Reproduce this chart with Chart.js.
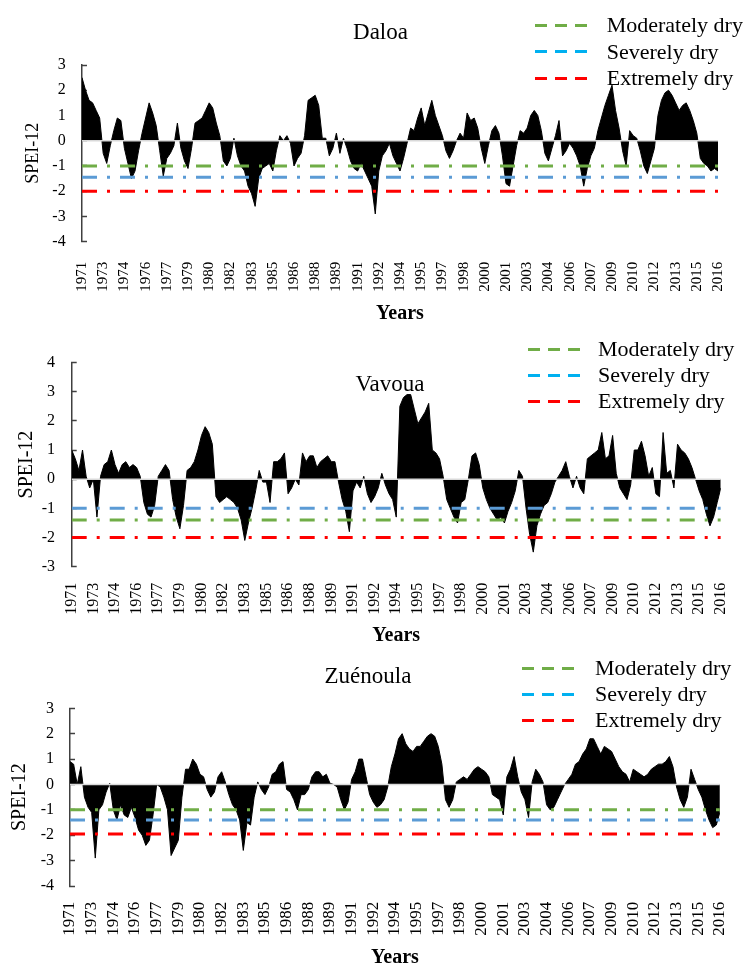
<!DOCTYPE html>
<html><head><meta charset="utf-8">
<script src="https://cdn.jsdelivr.net/npm/chart.js@4.4.1/dist/chart.umd.min.js"></script>
<style>
html,body{margin:0;padding:0;background:#fff;}
#wrap{position:relative;width:756px;height:967px;overflow:hidden;font-family:"Liberation Serif","Times New Roman",serif;color:#000;}
canvas{position:absolute;left:0;}
.title{position:absolute;font-size:23px;line-height:23px;white-space:nowrap;transform:translateX(-50%);}
.leg{position:absolute;font-size:22px;line-height:22px;white-space:nowrap;}
.sw{position:absolute;height:3px;}
</style></head><body>
<div id="wrap">
<canvas id="c1" width="756" height="330" style="top:0px"></canvas>
<canvas id="c2" width="756" height="320" style="top:330px"></canvas>
<canvas id="c3" width="756" height="320" style="top:650px"></canvas>
</div>
<script>
// x tick labels (one every 18 months, Dec 1971 .. Dec 2016, quarterly points)
const tickYears = ['1971','1973','1974','1976','1977','1979','1980','1982','1983','1985','1986','1988','1989','1991','1992','1994','1995','1997','1998','2000','2001','2003','2004','2006','2007','2009','2010','2012','2013','2015','2016'];
const legendLabels = ['Moderately dry','Severely dry','Extremely dry'];
const stations = ['Daloa','Vavoua','Zuénoula'];

// SPEI-12 values (quarterly)
const daloa = [
 2.5, 2.0, 1.6, 1.5, 1.2, 0.9, -0.5, -0.9, -0.2, 0.4,
 0.9, 0.8, -0.3, -0.9, -1.5, -1.2, -0.4, 0.3, 0.9, 1.5,
 1.1, 0.6, -0.4, -1.4, -0.7, -0.5, -0.2, 0.7, -0.3, -0.8,
 -1.1, -0.3, 0.7, 0.8, 0.9, 1.2, 1.5, 1.3, 0.7, 0.2,
 -0.8, -1.0, -0.7, 0.1, -0.6, -1.0, -1.2, -1.8, -2.1, -2.6,
 -1.5, -1.1, -1.0, -0.9, -1.2, -0.4, 0.2, 0.0, 0.2, -0.1,
 -1.0, -0.7, -0.5, 0.2, 1.6, 1.7, 1.8, 1.4, 0.1, 0.1,
 -0.6, -0.3, 0.3, -0.5, 0.1, -0.3, -0.8, -1.1, -1.2, -0.9,
 -1.2, -1.5, -1.8, -2.9, -1.2, -0.6, -0.4, -0.1, -0.6, -0.9,
 -1.2, -0.7, -0.1, 0.5, 0.4, 0.9, 1.3, 0.6, 1.1, 1.6,
 1.0, 0.6, 0.2, -0.4, -0.7, -0.4, 0.0, 0.3, 0.1, 1.1,
 0.8, 0.9, 0.5, -0.3, -0.9, -0.2, 0.4, 0.6, 0.3, -0.6,
 -1.7, -1.8, -1.0, -0.2, 0.4, 0.3, 0.5, 1.0, 1.2, 1.0,
 0.4, -0.5, -0.8, -0.3, 0.2, 0.8, -0.6, -0.4, -0.1, -0.3,
 -0.6, -1.0, -1.8, -1.1, -0.6, -0.3, 0.4, 0.9, 1.4, 1.8,
 2.2, 1.2, 0.5, -0.4, -1.0, 0.4, 0.2, 0.1, -0.4, -1.0,
 -1.3, -0.8, -0.3, 1.0, 1.6, 1.9, 2.0, 1.8, 1.5, 1.2,
 1.4, 1.5, 1.2, 0.8, 0.3, -0.7, -0.9, -1.0, -1.2, -1.1, -1.2
];
const vavoua = [
 1.0, 0.7, 0.3, 1.0, 0.1, -0.3, 0.0, -1.3, 0.1, 0.5,
 0.6, 1.0, 0.5, 0.2, 0.5, 0.6, 0.4, 0.5, 0.4, 0.1,
 -0.8, -1.2, -1.3, -0.9, 0.1, 0.3, 0.5, 0.3, -0.7, -1.3,
 -1.7, -0.9, 0.3, 0.4, 0.6, 1.0, 1.5, 1.8, 1.6, 1.2,
 -0.6, -0.8, -0.7, -0.6, -0.7, -0.8, -1.0, -1.4, -2.1, -1.5,
 -1.0, -0.4, 0.3, -0.1, -0.1, -0.8, 0.6, 0.6, 0.7, 0.9,
 -0.5, -0.3, 0.0, -0.2, 0.9, 0.6, 0.8, 0.8, 0.4, 0.6,
 0.7, 0.8, 0.6, 0.6, -0.1, -0.7, -1.1, -1.8, -0.4, -0.1,
 -0.3, 0.1, -0.5, -0.8, -0.6, -0.3, 0.2, -0.2, -0.5, -0.7,
 -1.3, 2.5, 2.8, 2.9, 2.9, 2.4, 1.9, 2.1, 2.3, 2.6,
 1.0, 0.9, 0.7, 0.1, -0.7, -1.0, -1.3, -1.5, -0.8, -0.7,
 0.0, 0.8, 0.9, 0.5, -0.3, -0.7, -1.0, -1.2, -1.4, -1.3,
 -1.5, -1.1, -0.8, -0.4, 0.3, 0.1, -1.0, -1.9, -2.5, -1.6,
 -1.2, -0.9, -0.8, -0.5, -0.1, 0.1, 0.3, 0.6, 0.1, -0.3,
 0.1, -0.3, -0.5, 0.7, 0.8, 0.9, 1.0, 1.6, 0.7, 0.8,
 1.5, 0.2, -0.3, -0.5, -0.7, -0.2, 1.0, 1.0, 1.3, 0.8,
 0.1, 0.4, -0.5, -0.6, 1.6, 0.2, 0.3, -0.3, 1.2, 1.0,
 0.9, 0.7, 0.4, 0.0, -0.4, -0.7, -1.2, -1.6, -1.3, -0.8, -0.3
];
const zuenoula = [
 0.9, 0.8, 0.0, 0.7, -0.5, -0.9, -1.1, -2.9, -1.0, -0.8,
 -0.3, 0.05, -1.0, -1.4, -0.8, -1.2, -1.3, -0.9, -1.3, -1.8,
 -2.0, -2.4, -2.2, -1.2, 0.0, -0.1, -0.5, -1.0, -2.8, -2.5,
 -2.2, -0.5, 0.6, 0.6, 1.0, 0.8, 0.4, 0.3, -0.2, -0.5,
 -0.3, 0.3, 0.5, 0.1, -0.4, -0.8, -1.0, -1.4, -2.6, -1.5,
 -1.6, -0.5, 0.1, -0.2, -0.4, -0.1, 0.4, 0.5, 0.8, 0.9,
 -0.2, -0.3, -0.6, -1.0, -0.4, -0.4, -0.2, 0.3, 0.5, 0.5,
 0.3, 0.4, 0.05, 0.0, -0.1, -0.6, -1.0, -0.7, 0.2, 0.5,
 1.0, 1.0, 0.3, -0.4, -0.7, -0.9, -0.8, -0.6, -0.1, 0.7,
 1.2, 1.8, 2.0, 1.6, 1.4, 1.3, 1.5, 1.5, 1.7, 1.9,
 2.0, 1.9, 1.5, 0.8, -0.6, -0.9, -0.6, 0.1, 0.2, 0.3,
 0.2, 0.4, 0.6, 0.7, 0.6, 0.5, 0.3, -0.4, -0.5, -0.6,
 -1.2, 0.3, 0.6, 1.1, 0.3, -0.3, -0.6, -1.3, 0.1, 0.6,
 0.4, 0.1, -0.8, -1.0, -0.9, -0.6, -0.3, 0.0, 0.2, 0.4,
 0.8, 0.9, 1.2, 1.4, 1.8, 1.8, 1.5, 1.2, 1.5, 1.4,
 1.3, 1.0, 0.7, 0.5, 0.4, 0.1, 0.6, 0.5, 0.4, 0.3,
 0.4, 0.6, 0.7, 0.8, 0.8, 0.9, 1.1, 0.7, -0.1, -0.6,
 -0.9, -0.5, 0.6, 0.2, -0.2, -0.5, -1.0, -1.4, -1.7, -1.6, -1.1
];
// threshold levels [moderately, severely, extremely] as drawn in each panel
const thrDaloa = [-1, -1.45, -2];
const thrVavoua = [-1.4, -1, -2];
const thrZuenoula = [-1, -1.4, -1.95];

const GREEN = '#70AD47', BLUE = '#5B9BD5', RED = '#FF0000', LEGBLUE = '#00B0F0';
const LAST = 180;

const panels = [
 {id:'c1', top:0, values:daloa, thr:thrDaloa, padTop:65, padRight:9, yW:82, xH:88.3, xPad:20, yearsPad:4, yMin:-4, yMax:3, yPad:21.3, tFont:18, tPad:22.7, xFont:15,
  title:{x:380.5, y:31.7}, leg:{sx:535, tx:606.7, rows:[25,51.7,78.3]}},
 {id:'c2', top:330, values:vavoua, thr:thrVavoua, padTop:32.5, padRight:10, yW:71.7, xH:83.3, xPad:16, yearsPad:2, yMin:-3, yMax:4, yPad:21.7, tFont:20, tPad:14.7, xFont:16,
  title:{x:390, y:384}, leg:{sx:528, tx:598, rows:[349,375,401]}},
 {id:'c3', top:650, values:zuenoula, thr:thrZuenoula, padTop:58.3, padRight:23, yW:70, xH:84, xPad:15.7, yearsPad:0, yMin:-4, yMax:3, yPad:21, tFont:20, tPad:8, xFont:17,
  title:{x:368, y:676}, leg:{sx:521.7, tx:595, rows:[668.3,694.3,720]}}
];

Chart.defaults.font.family = '"Liberation Serif","Times New Roman",serif';
Chart.defaults.color = '#000';

const wrap = document.getElementById('wrap');
function addDiv(cls, text, left, top, style) {
  const d = document.createElement('div');
  d.className = cls; if (text) d.textContent = text;
  d.style.left = left + 'px'; d.style.top = top + 'px';
  if (style) Object.assign(d.style, style);
  wrap.appendChild(d);
}

panels.forEach((p, k) => {
  const pts = p.values.map((v, i) => ({x: i, y: v}));
  const hline = (y) => [{x: 0, y: y}, {x: LAST, y: y}];
  const dash = [15, 10, 3, 10];
  const thrColors = [GREEN, BLUE, RED];
  const thrSets = p.thr.map((t, j) => ({data: hline(t), borderColor: thrColors[j], borderWidth: 3, borderDash: dash, borderCapStyle: 'butt', pointRadius: 0, fill: false}));
  new Chart(document.getElementById(p.id), {
    type: 'line',
    data: {datasets: [
      ...thrSets,
      {data: hline(0), borderColor: '#d9d9d9', borderWidth: 1.5, pointRadius: 0, fill: false},
      {data: pts, borderColor: '#000', backgroundColor: '#000', borderWidth: 1, pointRadius: 0, fill: 'origin', tension: 0}
    ]},
    options: {
      responsive: false, animation: false, devicePixelRatio: 1,
      layout: {padding: {left: 0, top: p.padTop, right: p.padRight, bottom: 0}},
      plugins: {legend: {display: false}, tooltip: {enabled: false}},
      scales: {
        x: {type: 'linear', min: 0, max: LAST,
            border: {display: false}, grid: {display: false, drawTicks: false},
            ticks: {stepSize: 6, maxTicksLimit: 100, autoSkip: false, minRotation: 90, maxRotation: 90, padding: p.xPad, color: '#000', font: {size: p.xFont},
                    callback: (v) => { const j = Math.round(v / 6); return tickYears[j] !== undefined ? tickYears[j] : ''; }},
            title: {display: true, text: 'Years', color: '#000', font: {size: 20, weight: 'bold'}, padding: {top: 0, bottom: p.yearsPad}},
            afterFit: (s) => { s.height = p.xH; }},
        y: {min: p.yMin, max: p.yMax,
            border: {display: true, color: '#404040', width: 1.5},
            grid: {drawOnChartArea: false, color: '#404040', tickColor: '#404040', tickLength: -5, tickWidth: 1.5},
            ticks: {stepSize: 1, padding: p.yPad, color: '#000', font: {size: 16}},
            title: {display: true, text: 'SPEI-12', color: '#000', font: {size: p.tFont}, padding: {top: p.tPad, bottom: 0}},
            afterFit: (s) => { s.width = p.yW; }}
      }
    }
  });
  addDiv('title', stations[k], p.title.x, p.title.y - 11.7);
  legendLabels.forEach((lab, j) => {
    const y = p.leg.rows[j];
    const c = [GREEN, LEGBLUE, RED][j];
    addDiv('sw', '', p.leg.sx, y - 1.5, {width: '53px', background: 'repeating-linear-gradient(to right,' + c + ' 0px,' + c + ' 12px,transparent 12px,transparent 20px)'});
    addDiv('leg', lab, p.leg.tx, y - 11.2);
  });
});
</script>
</body></html>
